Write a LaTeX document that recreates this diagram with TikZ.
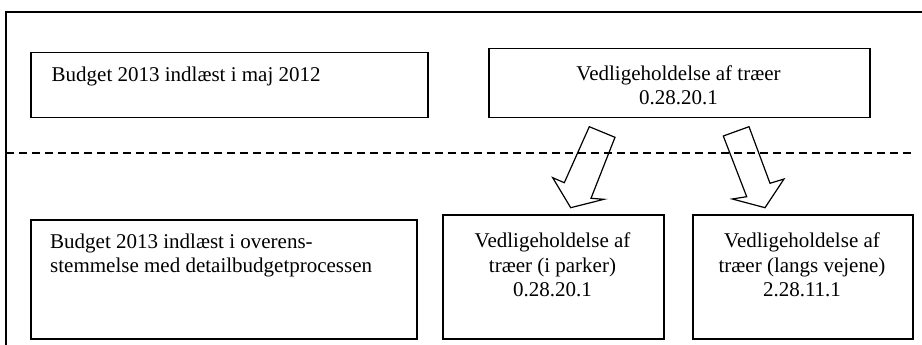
\documentclass[tikz,border=0pt]{standalone}
\usepackage{fontspec}
\setmainfont{Liberation Serif}
\begin{document}
\begin{tikzpicture}[x=1pt,y=-1pt,
  box/.style={draw, line width=1.5pt, inner sep=0pt, anchor=north west},
  lbl/.style={inner sep=0pt, font=\fontsize{21}{24.3}\selectfont},
  blockarrow/.style={draw, line width=1.2pt, line join=miter}]
\useasboundingbox (0,0) rectangle (922,345);
% frame
\draw[line width=1.5pt] (922,12) -- (6,12) -- (6,345);
% dashed separator
\coordinate (dl) at (6,153);
\coordinate (dr) at (913,153);
\draw[dash pattern=on 7.5pt off 5.5pt, line width=1.1pt] (dl) -- (dr);
% boxes
\node[box, minimum width=397pt, minimum height=65pt] (A) at (30,52) {};
\node[box, minimum width=381pt, minimum height=69pt] (B) at (488,48) {};
\node[box, minimum width=386pt, minimum height=119pt] (C) at (30,219) {};
\node[box, minimum width=221pt, minimum height=124pt] (D) at (442,214) {};
\node[box, minimum width=220pt, minimum height=124pt] (E) at (692,214) {};
% texts (base anchor = baseline of last line)
\node[lbl, anchor=base west] (At) at (51.5,81.7) {Budget 2013 indlæst i maj 2012};
\node[lbl, anchor=base, align=center] (Bt) at (678.5,104.5) {Vedligeholdelse af træer\\0.28.20.1};
\node[lbl, anchor=base west, align=left] (Ct) at (50,272.3) {Budget 2013 indlæst i overens-\\stemmelse med detailbudgetprocessen};
\node[lbl, anchor=base, align=center] (Dt) at (552.5,296.3) {Vedligeholdelse af\\træer (i parker)\\0.28.20.1};
\node[lbl, anchor=base, align=center] (Et) at (802,296.3) {Vedligeholdelse af\\træer (langs vejene)\\2.28.11.1};
% block arrows
\draw[blockarrow] (589.3,126.7) -- (615,137.3) -- (591,198.3) -- (604,199.3) -- (570.7,207.7) -- (552.7,177.7) -- (564.3,182.7) -- cycle;
\draw[blockarrow] (723.3,136) -- (749,126.7) -- (770,183.3) -- (784,179) -- (765,207.7) -- (732.3,199) -- (746.7,196.7) -- cycle;
\end{tikzpicture}
\end{document}
